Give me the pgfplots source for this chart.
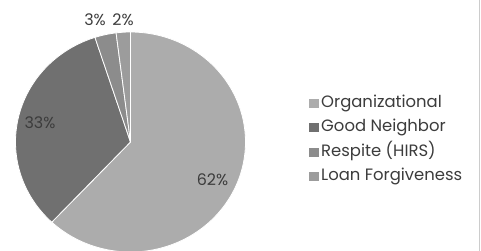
\documentclass[border=0pt]{standalone}
\usepackage{fontspec}
\setmainfont{Poppins}
\usepackage{pgfplots}
\pgfplotsset{compat=1.18}
\definecolor{cOrg}{HTML}{ACACAC}
\definecolor{cGood}{HTML}{707070}
\definecolor{cResp}{HTML}{8C8C8C}
\definecolor{cLoan}{HTML}{9C9C9C}
\definecolor{txt}{HTML}{3C3C3C}
% shares in percent
\def\vOrg{62}\def\vGood{33}\def\vResp{3}\def\vLoan{2}
\def\cx{130.5}\def\cy{109}\def\rx{115}\def\ry{110}
\begin{document}
\begin{tikzpicture}
\pgfmathsetmacro\aA{90}
\pgfmathsetmacro\aB{90-3.6*\vOrg}
\pgfmathsetmacro\aC{\aB-3.6*\vGood}
\pgfmathsetmacro\aD{\aC-3.6*\vResp}
\pgfmathsetmacro\aE{\aD-3.6*\vLoan}
\begin{axis}[
  at={(0,0)}, anchor=south west,
  scale only axis, width=481bp, height=251bp,
  xmin=0, xmax=481, ymin=0, ymax=251,
  hide axis, clip=true,
  font=\fontsize{16}{19}\selectfont\color{txt},
  legend style={at={(axis cs:309,156)}, anchor=north west, draw=none, fill=none,
    font=\fontsize{16.5}{19}\selectfont\color{txt}, row sep=8.5bp, inner sep=0pt,
    nodes={inner ysep=0pt, inner xsep=2bp, text height=12bp, text depth=4bp}},
  legend cell align=left,
  legend image code/.code={\fill[#1, draw=none] (0bp,-4.5bp) rectangle (10bp,4.5bp);},
]
\addplot[fill=cOrg, draw=white, line width=0.8pt, domain=\aA:\aB, samples=120]
  ({\cx+\rx*cos(x)},{\cy+\ry*sin(x)}) -- (axis cs:\cx,\cy) -- cycle;
\addlegendentry{Organizational}
\addplot[fill=cGood, draw=white, line width=0.8pt, domain=\aB:\aC, samples=80]
  ({\cx+\rx*cos(x)},{\cy+\ry*sin(x)}) -- (axis cs:\cx,\cy) -- cycle;
\addlegendentry{Good Neighbor}
\addplot[fill=cResp, draw=white, line width=0.8pt, domain=\aC:\aD, samples=10]
  ({\cx+\rx*cos(x)},{\cy+\ry*sin(x)}) -- (axis cs:\cx,\cy) -- cycle;
\addlegendentry{Respite (HIRS)}
\addplot[fill=cLoan, draw=white, line width=0.8pt, domain=\aD:\aE, samples=10]
  ({\cx+\rx*cos(x)},{\cy+\ry*sin(x)}) -- (axis cs:\cx,\cy) -- cycle;
\addlegendentry{Loan Forgiveness}
\node at (axis cs:212.5,71) {62\%};
\node at (axis cs:40,128) {33\%};
\node at (axis cs:95,231) {3\%};
\node at (axis cs:123,231) {2\%};
\draw[color=black!20] (axis cs:479.5,0) -- (axis cs:479.5,251);
\end{axis}
\pgfresetboundingbox
\path[use as bounding box] (0,0) rectangle (481bp,251bp);
\end{tikzpicture}
\end{document}
